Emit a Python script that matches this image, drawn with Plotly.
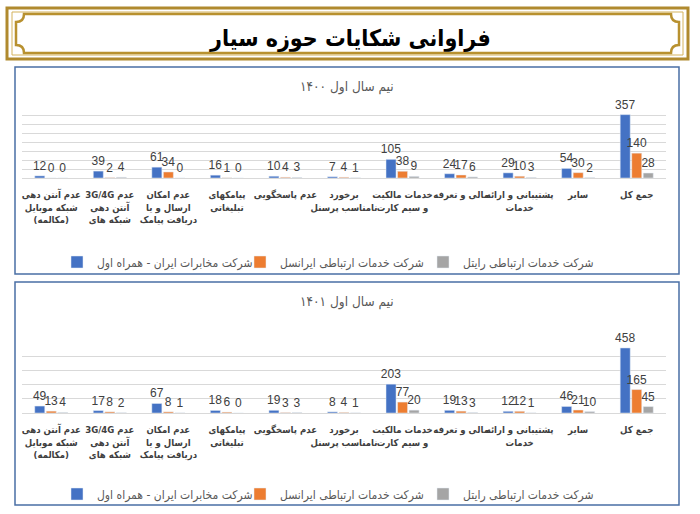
import plotly.graph_objects as go

# دسته ها به ترتیب نمایش از چپ به راست
categories = [
    "عدم آنتن دهی<br>شبکه موبایل<br>(مکالمه)",
    "عدم 3G/4G<br>آنتن دهی<br>شبکه های",
    "عدم امکان<br>ارسال و یا<br>دریافت پیامک",
    "پیامکهای<br>تبلیغاتی",
    "عدم پاسخگویی",
    "برخورد<br>نامناسب پرسنل",
    "خدمات مالکیت<br>و سیم کارت",
    "مالی و تعرفه",
    "پشتیبانی و ارائه<br>خدمات",
    "سایر",
    "جمع کل",
]

series_names = [
    "شرکت مخابرات ایران - همراه اول",
    "شرکت خدمات ارتباطی ایرانسل",
    "شرکت خدمات ارتباطی رایتل",
]

# نیم سال اول ۱۴۰۰
mci_1400 = [12, 39, 61, 16, 10, 7, 105, 24, 29, 54, 357]
irancell_1400 = [0, 2, 34, 1, 4, 4, 38, 17, 10, 30, 140]
rightel_1400 = [0, 4, 0, 0, 3, 1, 9, 6, 3, 2, 28]

# نیم سال اول ۱۴۰۱
mci_1401 = [49, 17, 67, 18, 19, 8, 203, 19, 12, 46, 458]
irancell_1401 = [13, 8, 8, 6, 3, 4, 77, 13, 12, 21, 165]
rightel_1401 = [4, 2, 1, 0, 3, 1, 20, 3, 1, 10, 45]

main_title = "فراوانی شکایات حوزه سیار"
panel_titles = ["نیم سال اول ۱۴۰۰", "نیم سال اول ۱۴۰۱"]

colors = ["#4472C4", "#ED7D31", "#A5A5A5"]
W, H = 700, 514
FA_FONT = "DejaVu Sans Condensed, DejaVu Sans"
NUM_FONT = "Liberation Sans"


def px(x):
    return x / W


def py(y):
    return 1 - y / H


def rtl(label):
    # هر سطر را راست به چپ نگه می دارد
    return "<br>".join("\u202b" + part + "\u202c" for part in label.split("<br>"))


labels = [rtl(c) for c in categories]

fig = go.Figure()

panels = [
    ("x", "y", "legend", [mci_1400, irancell_1400, rightel_1400]),
    ("x2", "y2", "legend2", [mci_1401, irancell_1401, rightel_1401]),
]
for xa, ya, lg, values in panels:
    for name, vals, col in zip(series_names, values, colors):
        fig.add_trace(go.Bar(
            x=labels, y=vals, name=rtl(name), marker_color=col,
            xaxis=xa, yaxis=ya, legend=lg,
            text=vals, textposition="outside", constraintext="none",
            textangle=0, cliponaxis=False,
            textfont=dict(family=NUM_FONT, size=12, color="#404040"),
            hoverinfo="skip",
        ))

xaxis_style = dict(
    type="category", showline=True, linecolor="#D9D9D9", linewidth=1,
    showgrid=False, ticks="", fixedrange=True, tickangle=0, automargin=False,
    ticklabelstandoff=8,
    tickfont=dict(family=FA_FONT, size=9.5, color="#404040", weight="bold"),
)
yaxis_style = dict(
    showticklabels=False, showgrid=True, gridcolor="#D9D9D9", gridwidth=1,
    zeroline=False, showline=False, ticks="", fixedrange=True,
)

legend_style = dict(
    orientation="h", xanchor="left", x=px(57), yanchor="middle",
    entrywidth=138, entrywidthmode="pixels", itemwidth=30,
    font=dict(family=FA_FONT, size=12, color="#595959"),
    bgcolor="rgba(0,0,0,0)", itemclick=False,
)

shapes = []
# قاب تزئینی عنوان
shapes.append(dict(type="rect", xref="paper", yref="paper",
                   x0=px(7), x1=px(688), y0=py(59), y1=py(8),
                   line=dict(color="#B08A2E", width=3), fillcolor="#FFFFFF", layer="below"))
shapes.append(dict(type="rect", xref="paper", yref="paper",
                   x0=px(12), x1=px(683), y0=py(55), y1=py(12),
                   line=dict(color="#D4B35C", width=1), layer="below"))
a, b, c, d, n = 16, 679, 14, 53, 8
path = (f"M {px(a+n)},{py(c)} L {px(b-n)},{py(c)} "
        f"Q {px(b-n)},{py(c+n)} {px(b)},{py(c+n)} L {px(b)},{py(d-n)} "
        f"Q {px(b-n)},{py(d-n)} {px(b-n)},{py(d)} L {px(a+n)},{py(d)} "
        f"Q {px(a+n)},{py(d-n)} {px(a)},{py(d-n)} L {px(a)},{py(c+n)} "
        f"Q {px(a+n)},{py(c+n)} {px(a+n)},{py(c)} Z")
shapes.append(dict(type="path", xref="paper", yref="paper", path=path,
                   line=dict(color="#B8912F", width=2.5), layer="below"))
# قاب نمودارها
for top, bottom in [(67, 274), (282, 505)]:
    shapes.append(dict(type="rect", xref="paper", yref="paper",
                       x0=px(15), x1=px(679), y0=py(bottom), y1=py(top),
                       line=dict(color="#4A6FA5", width=1.5), layer="below"))

annotations = [
    dict(text=main_title, x=px(350), y=py(23), xref="paper", yref="paper",
         showarrow=False, font=dict(family=FA_FONT, size=23, color="#000000", weight="bold")),
    dict(text=panel_titles[0], x=px(347), y=py(76), xref="paper", yref="paper",
         showarrow=False, font=dict(family=FA_FONT, size=13.5, color="#595959")),
    dict(text=panel_titles[1], x=px(347), y=py(301), xref="paper", yref="paper",
         showarrow=False, font=dict(family=FA_FONT, size=13.5, color="#595959")),
]

fig.update_layout(
    width=W, height=H,
    margin=dict(l=0, r=0, t=0, b=0),
    paper_bgcolor="#FFFFFF", plot_bgcolor="rgba(0,0,0,0)",
    barmode="group", bargap=0.41, bargroupgap=0.13,
    xaxis=dict(domain=[px(22), px(666)], anchor="y", **xaxis_style),
    yaxis=dict(domain=[py(178), py(107)], range=[0, 400], dtick=50, anchor="x", **yaxis_style),
    xaxis2=dict(domain=[px(22), px(666)], anchor="y2", **xaxis_style),
    yaxis2=dict(domain=[py(413), py(342)], range=[0, 500], dtick=100, anchor="x2", **yaxis_style),
    legend=dict(y=py(262), **legend_style),
    legend2=dict(y=py(494), **legend_style),
    shapes=shapes,
    annotations=annotations,
    showlegend=True,
)

fig.write_html("out.html", config={"displayModeBar": False},
               post_script="document.body.style.margin='0';")
